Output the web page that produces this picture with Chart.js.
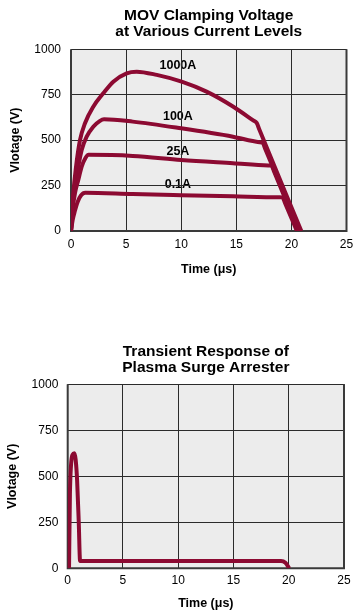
<!DOCTYPE html>
<html><head><meta charset="utf-8">
<script src="https://cdn.jsdelivr.net/npm/chart.js@4.4.1/dist/chart.umd.min.js"></script>
<style>
html,body{margin:0;padding:0;background:#fff;width:353px;height:612px;overflow:hidden}
.box{position:absolute;left:0;width:353px}
canvas{display:block}
</style></head><body>
<div class="box" style="top:0;height:280px"><canvas id="c1" width="353" height="280"></canvas></div>
<div class="box" style="top:300px;height:312px"><canvas id="c2" width="353" height="312"></canvas></div>
<script>
// ---- data ----
const xTicks = [0, 5, 10, 15, 20, 25];
const yTicks = [0, 250, 500, 750, 1000];
const movTitle = ['MOV Clamping Voltage', 'at Various Current Levels'];
const plasmaTitle = ['Transient Response of', 'Plasma Surge Arrester'];
const xTitle = 'Time (\u03bcs)';
const yTitle = 'Vlotage (V)';
const movNames = ['1000A', '100A', '25A', '0.1A'];

const mov1000x = [0, 0.2, 0.45, 0.82, 1.27, 2.02, 2.93, 3.84, 5.05, 5.96, 7.78, 10.04, 12.3, 14.73, 16.5, 16.85, 17.1, 20.9];
const mov1000y = [0, 200, 350, 501, 593, 684, 758, 822, 868, 877, 859, 822, 767, 684, 610, 595, 557, 0];
const mov100x = [0, 0.2, 0.66, 0.97, 1.42, 2.02, 2.6, 3.0, 5.6, 10, 14.7, 17.1, 17.4, 17.6, 20.75];
const mov100y = [0, 180, 354, 446, 519, 574, 605, 615, 602, 565, 519, 489, 485, 456, 0];
const mov25x = [0, 0.15, 0.36, 0.66, 0.97, 1.3, 1.6, 5.6, 10, 14.7, 17.9, 18.2, 18.4, 20.65];
const mov25y = [0, 120, 208, 281, 354, 400, 419, 413, 391, 373, 361, 360, 331, 0];
const mov01x = [0, 0.15, 0.35, 0.6, 0.9, 1.3, 5.6, 10, 14.7, 18.9, 19.2, 19.4, 20.5];
const mov01y = [0, 60, 110, 160, 195, 210, 203, 197, 191, 186, 185, 157, 0];

const plasmaX = [0.12, 0.2, 0.3, 0.45, 0.6, 0.72, 0.85, 1.0, 1.12, 19.3, 19.7, 20.05];
const plasmaY = [0, 400, 560, 618, 625, 590, 480, 250, 40, 40, 30, 0];

// ---- styling ----
const FONT = "'Liberation Sans', Arial, Helvetica, sans-serif";
const RED = '#8c0a32';
const GRID = '#2b2b2b';

function pts(xs, ys) { return xs.map((x, i) => ({x: x, y: ys[i]})); }

const deco = {
  id: 'deco',
  beforeDraw(chart, args, o) {
    const {ctx, chartArea: a, scales} = chart;
    ctx.save();
    ctx.fillStyle = '#ececec';
    ctx.fillRect(a.left, a.top, a.width, a.height);
    if (o.labels) {
      ctx.fillStyle = '#000';
      ctx.font = 'bold 12.5px ' + FONT;
      ctx.textAlign = 'center';
      ctx.textBaseline = 'middle';
      o.labels.forEach(l => {
        ctx.fillText(l.text, scales.x.getPixelForValue(l.x), scales.y.getPixelForValue(l.y));
      });
    }
    ctx.restore();
  },
  beforeDatasetsDraw(chart) {
    const {ctx, chartArea: a} = chart;
    ctx.save();
    ctx.strokeStyle = '#3a3a3a';
    ctx.lineWidth = 2;
    ctx.beginPath();
    ctx.moveTo(a.left, a.top);
    ctx.lineTo(a.left, a.bottom);
    ctx.lineTo(a.right, a.bottom);
    ctx.lineTo(a.right, a.top);
    ctx.stroke();
    ctx.restore();
  }
};

function makeChart(id, datasets, L) {
  return new Chart(document.getElementById(id), {
    type: 'line',
    data: {datasets: datasets.map(d => ({
      data: d,
      borderColor: RED,
      borderWidth: 4,
      pointRadius: 0,
      fill: false,
      cubicInterpolationMode: 'monotone'
    }))},
    options: {
      responsive: false,
      animation: false,
      devicePixelRatio: 1,
      layout: {padding: {left: 0, right: L.right, top: 0, bottom: 0}},
      plugins: {
        legend: {display: false},
        tooltip: {enabled: false},
        title: {
          display: true, text: L.title, color: '#000', fullSize: false,
          font: {family: FONT, size: 15.5, weight: 'bold', lineHeight: '16px'},
          padding: {top: L.titleTop, bottom: L.titleBottom}
        },
        deco: {labels: L.labels}
      },
      scales: {
        x: {
          type: 'linear', min: 0, max: 25,
          afterBuildTicks: s => { s.ticks = xTicks.map(v => ({value: v})); },
          afterFit: s => { s.height = L.xHeight; s.paddingLeft = 0; s.paddingRight = 0; },
          grid: {color: GRID, lineWidth: 1, drawTicks: false},
          border: {display: false},
          ticks: {color: '#000', font: {family: FONT, size: 12}, padding: L.xTickPad, maxRotation: 0,
            callback: v => String(v)},
          title: {display: true, text: xTitle, color: '#000',
            font: {family: FONT, size: 12.5, weight: 'bold'}, padding: {top: 0, bottom: L.xTitlePad}}
        },
        y: {
          type: 'linear', min: 0, max: 1000,
          afterBuildTicks: s => { s.ticks = yTicks.map(v => ({value: v})); },
          afterFit: s => { s.width = L.yWidth; s.paddingTop = 0; s.paddingBottom = 0; },
          grid: {color: GRID, lineWidth: 1, drawTicks: false},
          border: {display: false},
          ticks: {color: '#000', font: {family: FONT, size: 12}, padding: L.yTickPad,
            callback: v => String(v)},
          title: {display: true, text: yTitle, color: '#000',
            font: {family: FONT, size: 12.5, weight: 'bold'}, padding: {top: L.yTitlePad, bottom: 0}}
        }
      }
    },
    plugins: [deco]
  });
}

makeChart('c1', [
  pts(mov1000x, mov1000y), pts(mov100x, mov100y), pts(mov25x, mov25y), pts(mov01x, mov01y)
], {
  title: movTitle, titleTop: 7.5, titleBottom: 9.8,
  right: 6.5, xHeight: 49, xTickPad: 6, xTitlePad: 3,
  yWidth: 71, yTickPad: 10, yTitlePad: 8.5,
  labels: [
    {text: movNames[0], x: 9.7, y: 909},
    {text: movNames[1], x: 9.7, y: 629},
    {text: movNames[2], x: 9.7, y: 437},
    {text: movNames[3], x: 9.7, y: 253}
  ]
});

makeChart('c2', [pts(plasmaX, plasmaY)], {
  title: plasmaTitle, titleTop: 43.3, titleBottom: 9,
  right: 9, xHeight: 43.7, xTickPad: 5, xTitlePad: 0.5,
  yWidth: 67.7, yTickPad: 9.4, yTitlePad: 4.8,
  labels: null
});
</script>
</body></html>
